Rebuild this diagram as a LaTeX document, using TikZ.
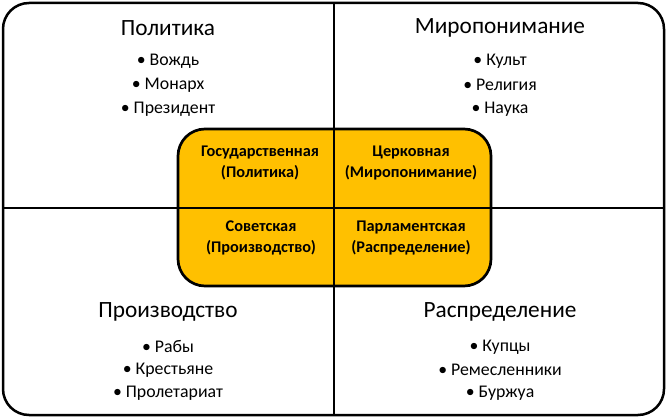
\documentclass[tikz,border=0pt]{standalone}
\usepackage{fontspec}
\setmainfont{Carlito}
\definecolor{boxorange}{HTML}{FFC000}
\begin{document}
\begin{tikzpicture}[x=1pt,y=-1pt,
  title/.style={font=\fontsize{23.3}{26}\selectfont, anchor=center, inner sep=0pt},
  item/.style={font=\fontsize{17.8}{24}\selectfont, anchor=center, inner sep=0pt},
  ctext/.style={font=\bfseries\fontsize{16.3}{20.5}\selectfont, align=center, anchor=center, inner sep=0pt},
  frame/.style={line width=2.5pt, rounded corners=26pt},
  divider/.style={line width=2.5pt}]
\useasboundingbox (0,0) rectangle (668,419);
\draw[frame] (3,3) rectangle (664,415);
\coordinate (T) at (334,3);
\coordinate (B) at (334,415);
\coordinate (L) at (3,208);
\coordinate (R) at (664,208);
\draw[line width=2.7pt, rounded corners=27pt, fill=boxorange] (178,129) rectangle (491,286);
\draw[divider] (T) -- (B);
\draw[divider] (L) -- (R);
% titles
\node[title] (t1) at (168,28) {Политика};
\node[title] (t2) at (500,28) {Миропонимание};
\node[title] (t3) at (168,312) {Производство};
\node[title] (t4) at (500,312) {Распределение};
% items
\node[item] (a1) at (168,61) {• Вождь};
\node[item] (a2) at (168,85) {• Монарх};
\node[item] (a3) at (168,109) {• Президент};
\node[item] (b1) at (500,61) {• Культ};
\node[item] (b2) at (500,85) {• Религия};
\node[item] (b3) at (500,109) {• Наука};
\node[item] (c1) at (168,347) {• Рабы};
\node[item] (c2) at (168,370) {• Крестьяне};
\node[item] (c3) at (168,393) {• Пролетариат};
\node[item] (d1) at (500,347) {• Купцы};
\node[item] (d2) at (500,370) {• Ремесленники};
\node[item] (d3) at (500,393) {• Буржуа};
% center
\node[ctext] (g1) at (260,163) {Государственная\\(Политика)};
\node[ctext] (g2) at (411,163) {Церковная\\(Миропонимание)};
\node[ctext] (g3) at (261,238) {Советская\\(Производство)};
\node[ctext] (g4) at (411,238) {Парламентская\\(Распределение)};
\end{tikzpicture}
\end{document}
